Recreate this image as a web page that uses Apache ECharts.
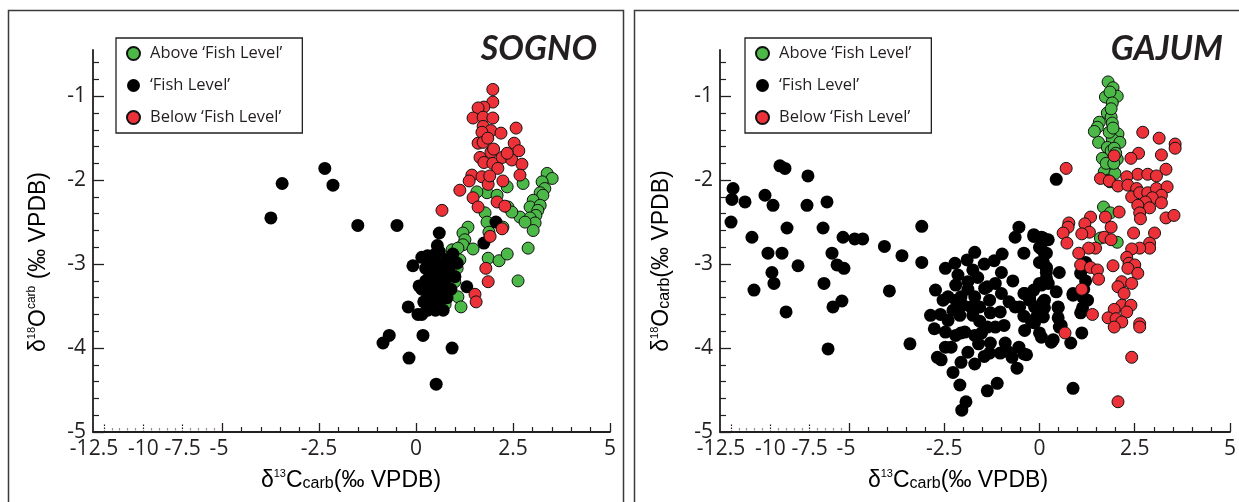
<!DOCTYPE html>
<html>
<head>
<meta charset="utf-8">
<script src="https://cdn.jsdelivr.net/npm/echarts@6/dist/echarts.min.js"></script>
<style>
  html, body { margin: 0; padding: 0; background: #fff; }
  #chart { width: 1239px; height: 502px; }
</style>
</head>
<body>
<div id="chart"></div>
<script>
// ---- categories / labels ----
const seriesNames = ['Above ‘Fish Level’', '‘Fish Level’', 'Below ‘Fish Level’'];
const panelTitles = ['SOGNO', 'GAJUM'];
const xLabelsCompressed = [-12.5, -10, -7.5, -5];
const xMajorCompressed = [-12.5, -10, -7.5];
const yLabels = [-5, -4, -3, -2, -1];

// ---- SOGNO: [δ13C, δ18O] ----
const sognoAbove = [
  [3.38,-1.92],[3.51,-1.98],[3.25,-2.02],[3.32,-2.10],[3.20,-2.15],[3.27,-2.18],[3.02,-2.24],[2.94,-2.32],
  [3.20,-2.30],[3.14,-2.36],[3.09,-2.42],[2.68,-2.44],[2.94,-2.45],[3.07,-2.51],[2.81,-2.50],[3.02,-2.60],
  [2.76,-2.04],[2.35,-2.08],[1.83,-2.15],[2.09,-2.18],[1.57,-2.14],[2.37,-2.32],[2.47,-2.38],[1.78,-2.39],
  [1.83,-2.50],[2.24,-2.56],[1.88,-2.62],[1.34,-2.56],[1.21,-2.63],[1.26,-2.71],[0.93,-2.83],[1.21,-2.77],
  [1.47,-2.82],[1.08,-2.81],[0.85,-2.93],[1.13,-2.95],[1.86,-2.93],[2.14,-2.96],[2.35,-2.88],[2.89,-2.81],
  [1.06,-3.05],[1.00,-3.15],[1.00,-3.21],[0.88,-2.98],[1.08,-3.39],[1.16,-3.51],[0.75,-3.48],[2.63,-3.20]
];
const sognoFish = [
  [-3.74,-2.45],[-3.45,-2.04],[-2.35,-1.86],[-2.14,-2.06],[-1.50,-2.54],[-0.49,-2.54],[0.60,-2.63],[2.06,-2.50],
  [1.75,-2.75],[-0.69,-3.85],[-0.85,-3.94],[0.18,-3.85],[0.93,-4.00],[-0.18,-4.12],[0.52,-4.43],
  [-0.08,-3.02],[0.08,-3.26],[-0.20,-3.51],[0.05,-3.60],[1.06,-2.99],[1.31,-3.27],[0.57,-3.51],
  [0.30,-2.90],[0.40,-2.95],[0.50,-2.88],[0.60,-2.85],[0.45,-3.05],[0.55,-3.10],[0.65,-3.00],[0.70,-3.10],
  [0.35,-3.15],[0.25,-3.20],[0.50,-3.20],[0.60,-3.25],[0.75,-3.20],[0.40,-3.30],[0.30,-3.35],[0.55,-3.35],
  [0.70,-3.35],[0.20,-3.45],[0.40,-3.45],[0.60,-3.45],[0.80,-3.40],[0.30,-3.55],[0.50,-3.55],[0.15,-3.60],
  [0.70,-3.55],[0.85,-3.05],[0.90,-3.30],[0.35,-3.05],[0.15,-3.30],[0.25,-3.05],[0.45,-3.40],[0.65,-3.40],
  [0.80,-2.95],[0.15,-2.92],[0.55,-2.78],[1.00,-3.15],[0.95,-2.88]
];
const sognoBelow = [
  [1.98,-0.92],[1.98,-1.07],[1.75,-1.13],[1.60,-1.14],[1.47,-1.26],[1.73,-1.25],[1.98,-1.26],[1.73,-1.36],
  [1.93,-1.41],[1.70,-1.43],[2.19,-1.44],[2.58,-1.38],[1.60,-1.56],[1.73,-1.55],[2.53,-1.56],[1.93,-1.67],
  [2.65,-1.65],[1.65,-1.73],[1.75,-1.79],[1.98,-1.80],[2.22,-1.73],[2.47,-1.76],[2.73,-1.81],[2.11,-1.86],
  [2.68,-1.94],[1.44,-1.94],[1.70,-1.96],[1.37,-2.01],[1.86,-2.05],[2.24,-2.01],[1.13,-2.12],[1.47,-2.21],
  [2.09,-2.26],[2.29,-2.31],[1.60,-2.32],[0.67,-2.36],[2.22,-2.58],[1.91,-2.67],[1.80,-3.05],[1.86,-3.21],
  [1.52,-3.36],[1.55,-3.45],[1.85,-1.50],[2.00,-1.63],[1.90,-1.95],[2.35,-1.68]
];

// ---- GAJUM: [δ13C, δ18O] ----
const gajumAbove = [
  [1.80,-0.83],[1.93,-0.90],[1.73,-1.01],[2.04,-1.00],[1.85,-0.95],[1.91,-1.08],[1.78,-1.20],[1.88,-1.25],
  [1.91,-1.32],[1.57,-1.31],[1.52,-1.37],[1.44,-1.42],[2.06,-1.45],[1.91,-1.51],[1.55,-1.55],[2.11,-1.55],
  [1.78,-1.61],[1.88,-1.65],[1.65,-1.74],[2.04,-1.75],[1.91,-1.86],[1.70,-1.90],[1.80,-2.00],[1.98,-1.92],
  [1.83,-1.43],[1.96,-1.62],[1.75,-1.80],[2.00,-1.68],[1.88,-1.15],[1.93,-1.38],[1.68,-2.32],[1.86,-2.39],
  [1.60,-2.69],[2.04,-2.74],[1.85,-2.02],[1.95,-1.80]
];
const gajumFish = [
  [-12.37,-2.10],[-12.44,-2.23],[-12.50,-2.50],[-11.61,-2.26],[-11.17,-2.68],[-11.04,-3.31],[-10.34,-2.18],
  [-10.15,-2.87],[-9.90,-3.10],[-9.83,-2.30],[-9.77,-3.23],[-9.39,-1.83],[-9.26,-2.87],[-9.07,-1.86],
  [-9.00,-3.57],[-8.94,-2.57],[-8.24,-3.02],[-7.67,-2.30],[-7.61,-1.95],[-6.65,-2.57],[-6.59,-3.23],
  [-6.40,-2.26],[-6.33,-4.01],[-6.08,-2.87],[-6.02,-3.51],[-5.76,-3.01],[-5.45,-3.44],[-5.38,-2.68],[-5.32,-3.05],
  [-4.85,-2.70],[-4.64,-2.70],[-4.07,-2.79],[-3.94,-3.32],[-3.61,-2.90],[-3.40,-3.95],[-3.09,-2.55],[-3.09,-2.98],
  [-2.73,-3.31],[-2.86,-3.61],[-2.76,-3.77],[-2.68,-4.11],[-2.47,-3.05],[-2.22,-2.99],[-2.14,-3.13],[-1.75,-3.07],
  [-1.88,-3.21],[-2.53,-3.43],[-2.47,-3.81],[-2.27,-4.29],[-2.06,-4.17],[-1.70,-4.19],[-2.09,-4.44],[-1.93,-4.64],
  [-2.04,-4.74],[-1.37,-4.51],[-1.11,-4.42],[-0.59,-4.24],[-2.40,-3.39],[-2.27,-3.55],[-2.40,-3.67],[-2.09,-3.61],
  [-2.06,-3.82],[-2.32,-3.99],[-1.88,-4.05],[-2.06,-3.39],[-1.70,-3.39],[-1.80,-3.51],[-1.57,-3.51],[-1.44,-3.29],
  [-1.16,-3.23],[-1.31,-3.43],[-1.03,-3.57],[-1.29,-3.58],[-1.37,-3.75],[-1.16,-3.75],[-1.70,-3.85],[-1.29,-3.94],
  [-1.31,-4.06],[-1.03,-4.06],[-0.80,-4.05],[-0.90,-3.94],[-0.54,-3.99],[-0.72,-4.11],[-0.41,-4.07],[-1.75,-3.61],
  [-1.96,-3.81],[-1.52,-3.82],[-1.88,-3.30],[-2.19,-3.43],[-1.70,-2.86],[-1.19,-2.96],[-0.98,-2.88],[-0.54,-2.56],
  [-0.64,-2.68],[-0.15,-2.67],[0.10,-2.69],[0.05,-2.82],[-0.41,-2.87],[0.10,-2.98],[0.18,-3.10],[0.00,-3.23],
  [-0.41,-3.35],[-0.64,-3.51],[-0.41,-3.62],[-0.39,-3.79],[-0.13,-3.70],[0.00,-3.51],[0.13,-3.52],[0.00,-3.82],
  [0.31,-3.93],[-0.26,-3.43],[-1.62,-3.16],[-1.37,-3.27],[-2.01,-3.49],[-2.47,-3.99],[-2.58,-4.14],[-1.57,-3.68],
  [-1.00,-3.35],[-0.80,-3.45],[-0.93,-3.73],[-1.60,-3.95],[-1.45,-4.10],[-2.20,-3.25],[-1.00,-3.10],[-0.70,-3.20],
  [-2.60,-3.60],[-2.20,-3.85],[-1.45,-3.00],[-1.90,-2.95],
  [0.18,-2.87],[0.52,-3.10],[0.44,-3.33],[0.88,-3.35],[1.13,-3.39],[1.13,-3.52],[0.49,-3.52],[0.49,-3.64],
  [0.57,-3.73],[0.36,-3.90],[0.82,-3.94],[1.11,-3.82],[0.88,-4.48],[-0.08,-3.63],[0.08,-3.46],[-0.15,-3.31],
  [-0.39,-3.35],[-0.52,-3.51],[0.18,-3.05],[0.23,-3.23],[0.44,-1.99],
  [-0.15,-2.65],[0.05,-2.68],[0.23,-2.71],[0.00,-2.80],[0.13,-2.87],[0.00,-2.98],[0.18,-3.04],[0.18,-3.17],
  [0.05,-3.25],[-0.26,-3.39],[0.13,-3.43],[0.49,-3.51],[-0.13,-3.51],[0.10,-3.63],[-0.21,-3.69],[0.52,-3.75],
  [0.05,-3.87],[-0.34,-4.08],
  [0.88,-3.37],[1.08,-3.11],[1.21,-2.98],[1.21,-3.20],[1.26,-3.43],[1.08,-3.58],[1.16,-3.30]
];
const gajumBelow = [
  [2.71,-1.43],[3.14,-1.50],[3.56,-1.57],[3.56,-1.62],[2.60,-1.68],[2.40,-1.74],[3.20,-1.70],[1.96,-1.71],
  [0.70,-1.86],[3.32,-1.87],[2.58,-1.93],[2.84,-1.93],[3.07,-1.95],[1.60,-1.98],[1.83,-2.01],[2.06,-2.07],
  [2.29,-1.96],[2.32,-2.06],[2.55,-2.10],[2.42,-2.20],[2.63,-2.15],[2.84,-2.15],[3.07,-2.10],[3.35,-2.08],
  [3.20,-2.18],[2.96,-2.21],[2.78,-2.26],[2.58,-2.30],[3.20,-2.27],[2.89,-2.33],[2.63,-2.39],[2.65,-2.46],
  [3.32,-2.45],[3.53,-2.42],[2.09,-2.38],[1.34,-2.44],[1.73,-2.44],[0.77,-2.51],[0.75,-2.56],[1.19,-2.52],
  [1.31,-2.62],[1.11,-2.64],[1.88,-2.56],[0.62,-2.63],[0.72,-2.75],[1.70,-2.68],[1.88,-2.71],[2.47,-2.63],
  [3.02,-2.63],[2.89,-2.75],[2.89,-2.81],[2.63,-2.81],[2.42,-2.82],[1.47,-2.81],[1.29,-2.81],[1.03,-2.87],
  [2.29,-2.92],[2.35,-2.99],[2.50,-3.01],[2.32,-3.05],[2.58,-3.11],[1.93,-3.02],[1.08,-3.01],[1.34,-3.04],
  [1.52,-3.07],[1.55,-3.18],[2.16,-3.21],[2.42,-3.23],[2.06,-3.27],[2.22,-3.35],[1.11,-3.30],[2.16,-3.49],
  [2.40,-3.49],[1.96,-3.54],[2.29,-3.57],[1.39,-3.60],[1.80,-3.64],[2.01,-3.65],[2.16,-3.69],[1.96,-3.75],
  [2.63,-3.71],[2.63,-3.75],[0.67,-3.82],[2.42,-4.11],[2.06,-4.64]
];

// ---- axis geometry (values) ----
const X_MIN = -13.2, X_BREAK = -5, X_MAX = 5;
const Y_MIN = -5, Y_MAX = -0.45;

// minor tick positions on the compressed part of δ13C and on δ18O
const xMinorCompressed = [];
for (let i = -25; i < -10; i++) if (i % 5 !== 0) xMinorCompressed.push(i / 2);
const yMinor = [];
for (let i = -24; i <= -3; i++) if (i % 5 !== 0) yMinor.push(i / 5);

const ink = '#231f20';
const labelFont = '"Open Sans", Lato, sans-serif';
const arial = '"Liberation Sans", Arial, sans-serif';

const styles = [
  { color: '#4cb848', borderColor: '#111', borderWidth: 1, size: 12 },
  { color: '#000000', borderColor: '#000', borderWidth: 0, size: 13 },
  { color: '#ec3238', borderColor: '#111', borderWidth: 1, size: 12 }
];

const grids = [], xAxes = [], yAxes = [], series = [];

function lineStyle(w) { return { color: ink, width: w }; }

function addPanel(x0, sets) {
  const g = grids.length;
  const xi = xAxes.length, yi = yAxes.length;
  grids.push({ left: x0, top: 50, width: 129, height: 382 });
  grids.push({ left: x0 + 129, top: 50, width: 388, height: 382 });

  // compressed δ13C segment: dotted ticks
  xAxes.push({
    gridIndex: g, type: 'value', position: 'bottom', min: X_MIN, max: X_BREAK,
    axisLine: { show: true, lineStyle: lineStyle(1.8) },
    axisTick: { show: true, inside: true, length: 8, customValues: xMajorCompressed,
      lineStyle: { color: ink, width: 1.2, type: [1.5, 1.5] } },
    axisLabel: {
      customValues: xLabelsCompressed, margin: 7, color: ink, fontFamily: labelFont, fontSize: 21,
      formatter: v => v === -12.5 ? '{w|' + v + '}' : (v === -5 ? '{n|' + v + '}' : String(v)),
      rich: { w: { padding: [0, 20, 0, 0] }, n: { padding: [0, 6, 0, 0] } }
    },
    splitLine: { show: false }
  });
  xAxes.push({
    gridIndex: g, type: 'value', position: 'bottom', min: X_MIN, max: X_BREAK,
    axisLine: { show: false },
    axisTick: { show: true, inside: true, length: 4, customValues: xMinorCompressed,
      lineStyle: { color: ink, width: 1.2, type: [1.2, 1.2] } },
    axisLabel: { show: false }, splitLine: { show: false }
  });
  // linear δ13C segment
  xAxes.push({
    gridIndex: g + 1, type: 'value', position: 'bottom', min: X_BREAK, max: X_MAX, interval: 2.5,
    axisLine: { show: true, lineStyle: lineStyle(1.8) },
    axisTick: { show: true, inside: true, length: 9, lineStyle: lineStyle(1.3) },
    minorTick: { show: true, splitNumber: 5, length: 5, lineStyle: lineStyle(1.2) },
    axisLabel: { showMinLabel: false, margin: 7, color: ink, fontFamily: labelFont, fontSize: 21 },
    splitLine: { show: false }, minorSplitLine: { show: false }
  });

  // δ18O axis
  yAxes.push({
    gridIndex: g, type: 'value', position: 'left', min: Y_MIN, max: Y_MAX,
    axisLine: { show: true, lineStyle: lineStyle(1.8) },
    axisTick: { show: true, inside: true, length: 11, customValues: yLabels, lineStyle: lineStyle(1.3) },
    axisLabel: { customValues: yLabels, margin: 7, color: ink, fontFamily: labelFont, fontSize: 21 },
    splitLine: { show: false }
  });
  yAxes.push({
    gridIndex: g, type: 'value', position: 'left', min: Y_MIN, max: Y_MAX,
    axisLine: { show: false },
    axisTick: { show: true, inside: true, length: 6, customValues: yMinor, lineStyle: lineStyle(1.2) },
    axisLabel: { show: false }, splitLine: { show: false }
  });
  yAxes.push({ gridIndex: g + 1, type: 'value', position: 'left', min: Y_MIN, max: Y_MAX, show: false, splitLine: { show: false } });

  sets.forEach((pts, k) => {
    const st = styles[k];
    const parts = [pts.filter(p => p[0] < X_BREAK), pts.filter(p => p[0] >= X_BREAK)];
    parts.forEach((data, side) => {
      if (!data.length) return;
      series.push({
        type: 'scatter', name: seriesNames[k], data,
        xAxisIndex: side === 0 ? xi : xi + 2,
        yAxisIndex: side === 0 ? yi : yi + 2,
        symbol: 'circle', symbolSize: st.size, clip: false,
        itemStyle: { color: st.color, borderColor: st.borderColor, borderWidth: st.borderWidth, opacity: 1 },
        emphasis: { disabled: true }, z: 2 + k
      });
    });
  });
}

addPanel(93, [sognoAbove, sognoFish, sognoBelow]);
addPanel(720, [gajumAbove, gajumFish, gajumBelow]);

const legends = [116, 745].map(left => ({
  left, top: 38, orient: 'vertical', data: seriesNames, icon: 'circle',
  itemWidth: 13, itemHeight: 13, itemGap: 15, padding: [7, 20, 7, 10],
  borderColor: ink, borderWidth: 1.3, selectedMode: false,
  textStyle: { fontFamily: labelFont, fontSize: 16.5, color: ink, lineHeight: 13, padding: [0, 0, 0, 5] }
}));

const richTitle = {
  m: { fontFamily: arial, fontSize: 23, color: ink, lineHeight: 24, verticalAlign: 'bottom' },
  sup: { fontFamily: arial, fontSize: 11, color: ink, lineHeight: 12, verticalAlign: 'top' },
  supc: { fontFamily: arial, fontSize: 12, color: ink, lineHeight: 12, verticalAlign: 'top' },
  sub: { fontFamily: arial, fontSize: 16, color: ink, lineHeight: 16, verticalAlign: 'bottom' }
};
function titleText(x, y, text, rotation) {
  return {
    type: 'text', x, y, rotation: rotation || 0, silent: true, z: 10,
    style: { text, rich: richTitle, textAlign: 'center', textVerticalAlign: 'middle', lineHeight: 28 }
  };
}

const graphic = [
  { type: 'rect', silent: true, z: 0, shape: { x: 8.5, y: 10.5, width: 615, height: 600 },
    style: { fill: 'none', stroke: '#3a3a3a', lineWidth: 1.5 } },
  { type: 'rect', silent: true, z: 0, shape: { x: 634.5, y: 10.5, width: 700, height: 600 },
    style: { fill: 'none', stroke: '#3a3a3a', lineWidth: 1.5 } },
  { type: 'text', x: 597, y: 49, silent: true, z: 10,
    style: { text: panelTitles[0], font: 'italic bold 34px Lato', fill: ink, textAlign: 'right', textVerticalAlign: 'middle' } },
  { type: 'text', x: 1223, y: 49, silent: true, z: 10,
    style: { text: panelTitles[1], font: 'italic bold 34px Lato', fill: ink, textAlign: 'right', textVerticalAlign: 'middle' } },
  titleText(351, 480, '{m|δ}{sup|13}{m|C}{sub|carb}{m|(‰ VPDB)}'),
  titleText(958, 480, '{m|δ}{sup|13}{m|C}{sub|carb}{m|(‰ VPDB)}'),
  titleText(38, 262, '{m|δ}{sup|18}{m|O}{supc|carb}{m| (‰ VPDB)}', Math.PI / 2),
  titleText(661, 261, '{m|δ}{sup|18}{m|O}{sub|carb}{m|(‰ VPDB)}', Math.PI / 2)
];

const chart = echarts.init(document.getElementById('chart'), null, { renderer: 'canvas', devicePixelRatio: 1 });
chart.setOption({
  animation: false,
  backgroundColor: '#ffffff',
  grid: grids,
  xAxis: xAxes,
  yAxis: yAxes,
  legend: legends,
  graphic,
  series
});
</script>
</body>
</html>
